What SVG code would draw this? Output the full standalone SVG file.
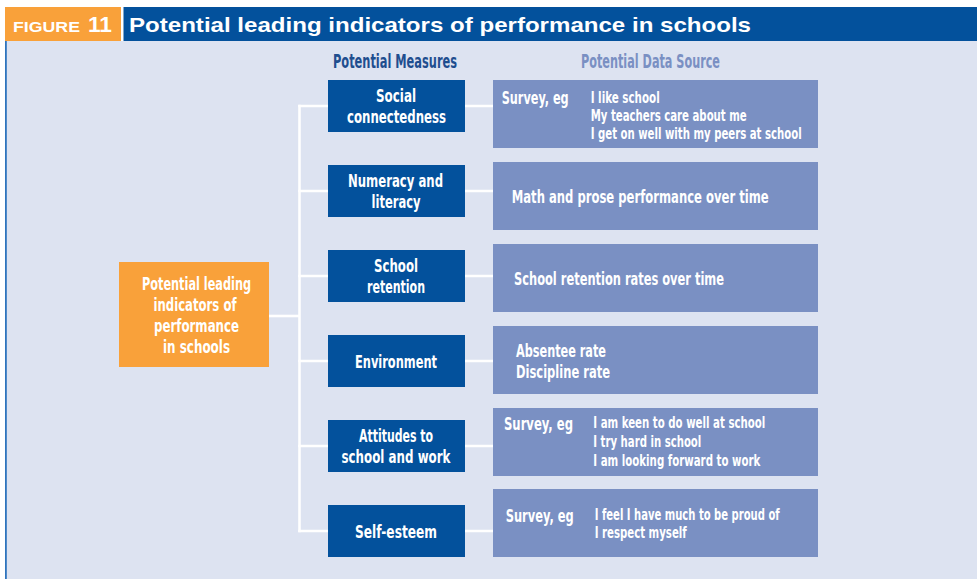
<svg xmlns="http://www.w3.org/2000/svg" width="977" height="579" viewBox="0 0 977 579">
  <style>
    .cond { font-family: "Liberation Sans Narrow", "DejaVu Sans Condensed", "Liberation Sans", sans-serif; font-weight: bold; }
    .head { font-family: "Liberation Sans", Arial, sans-serif; font-weight: bold; fill: #ffffff; }
    .measure rect { fill: #03519c; }
    .measure text { fill: #ffffff; font-size: 18px; text-anchor: middle; }
    .source rect { fill: #7a90c3; }
    .source text { fill: #ffffff; }
    .lbl { font-size: 18px; }
    .item { font-size: 16.5px; }
    .conn { stroke: #ffffff; stroke-width: 2.6; fill: none; }
  </style>

  <!-- page and panel -->
  <rect x="0" y="0" width="977" height="579" fill="#ffffff"/>
  <rect x="5" y="41" width="972" height="538" fill="#dde3f1"/>
  <rect x="5" y="41" width="1.8" height="538" fill="#2f74bd"/>

  <!-- title bar -->
  <g id="title">
    <rect x="5" y="7" width="116" height="34" fill="#f9a13a"/>
    <rect x="123.5" y="7" width="853.5" height="34" fill="#03519c"/>
    <text class="head" x="13" y="32" font-size="15" textLength="67" lengthAdjust="spacingAndGlyphs">FIGURE</text>
    <text class="head" x="88" y="32.3" font-size="22" textLength="24" lengthAdjust="spacingAndGlyphs">11</text>
    <text class="head" x="129" y="31.5" font-size="21" textLength="622" lengthAdjust="spacingAndGlyphs">Potential leading indicators of performance in schools</text>
  </g>

  <!-- column headings -->
  <g id="headings" class="cond" font-size="19" text-anchor="middle">
    <text x="395" y="67.5" fill="#1f4e8f" textLength="124" lengthAdjust="spacingAndGlyphs">Potential Measures</text>
    <text x="650.5" y="68" fill="#7a90c3" textLength="139" lengthAdjust="spacingAndGlyphs">Potential Data Source</text>
  </g>

  <!-- connectors -->
  <g id="connectors" class="conn">
    <path d="M269 316 H299.5"/>
    <path d="M299.5 104.7 V532.3"/>
    <path d="M298.2 106 H328 M298.2 191 H328 M298.2 276 H328 M298.2 361 H328 M298.2 446 H328 M298.2 531 H328"/>
    <path d="M465 106 H493 M465 191 H493 M465 276 H493 M465 361 H493 M465 446 H493 M465 531 H493"/>
  </g>

  <!-- root node -->
  <g id="root" class="cond">
    <rect x="119" y="262" width="150" height="105" fill="#f9a13a"/>
    <g fill="#ffffff" font-size="18" text-anchor="middle">
      <text x="196.5" y="290" textLength="109" lengthAdjust="spacingAndGlyphs">Potential leading</text>
      <text x="195" y="311" textLength="83" lengthAdjust="spacingAndGlyphs">indicators of</text>
      <text x="196.5" y="332" textLength="85" lengthAdjust="spacingAndGlyphs">performance</text>
      <text x="196.5" y="353" textLength="67" lengthAdjust="spacingAndGlyphs">in schools</text>
    </g>
  </g>

  <!-- measures -->
  <g id="m-social" class="measure cond">
    <rect x="328" y="80" width="137" height="52"/>
    <text x="396" y="102" textLength="40" lengthAdjust="spacingAndGlyphs">Social</text>
    <text x="396.5" y="123" textLength="99" lengthAdjust="spacingAndGlyphs">connectedness</text>
  </g>
  <g id="m-numeracy" class="measure cond">
    <rect x="328" y="165" width="137" height="52"/>
    <text x="395.5" y="187" textLength="95" lengthAdjust="spacingAndGlyphs">Numeracy and</text>
    <text x="396" y="208" textLength="49" lengthAdjust="spacingAndGlyphs">literacy</text>
  </g>
  <g id="m-retention" class="measure cond">
    <rect x="328" y="250" width="137" height="52"/>
    <text x="396" y="272" textLength="44" lengthAdjust="spacingAndGlyphs">School</text>
    <text x="396" y="293" textLength="58" lengthAdjust="spacingAndGlyphs">retention</text>
  </g>
  <g id="m-environment" class="measure cond">
    <rect x="328" y="335" width="137" height="52"/>
    <text x="396" y="368" textLength="82" lengthAdjust="spacingAndGlyphs">Environment</text>
  </g>
  <g id="m-attitudes" class="measure cond">
    <rect x="328" y="420" width="137" height="52"/>
    <text x="396" y="442" textLength="74" lengthAdjust="spacingAndGlyphs">Attitudes to</text>
    <text x="396" y="463" textLength="109" lengthAdjust="spacingAndGlyphs">school and work</text>
  </g>
  <g id="m-selfesteem" class="measure cond">
    <rect x="328" y="505" width="137" height="52"/>
    <text x="396" y="538" textLength="82" lengthAdjust="spacingAndGlyphs">Self-esteem</text>
  </g>

  <!-- data sources -->
  <g id="s-social" class="source cond">
    <rect x="493" y="80" width="325" height="68"/>
    <text class="lbl" x="501.7" y="104" textLength="67" lengthAdjust="spacingAndGlyphs">Survey, eg</text>
    <text class="item" x="590.7" y="102.7" textLength="69" lengthAdjust="spacingAndGlyphs">I like school</text>
    <text class="item" x="590.7" y="121" textLength="156" lengthAdjust="spacingAndGlyphs">My teachers care about me</text>
    <text class="item" x="590.7" y="139.3" textLength="211" lengthAdjust="spacingAndGlyphs">I get on well with my peers at school</text>
  </g>
  <g id="s-numeracy" class="source cond">
    <rect x="493" y="162" width="325" height="68"/>
    <text class="lbl" x="511.7" y="203.3" textLength="257" lengthAdjust="spacingAndGlyphs">Math and prose performance over time</text>
  </g>
  <g id="s-retention" class="source cond">
    <rect x="493" y="244" width="325" height="68"/>
    <text class="lbl" x="514" y="285" textLength="210" lengthAdjust="spacingAndGlyphs">School retention rates over time</text>
  </g>
  <g id="s-environment" class="source cond">
    <rect x="493" y="326" width="325" height="68"/>
    <text class="lbl" x="516" y="356.7" textLength="90" lengthAdjust="spacingAndGlyphs">Absentee rate</text>
    <text class="lbl" x="516" y="378.3" textLength="94" lengthAdjust="spacingAndGlyphs">Discipline rate</text>
  </g>
  <g id="s-attitudes" class="source cond">
    <rect x="493" y="408" width="325" height="68"/>
    <text class="lbl" x="504" y="430" textLength="69" lengthAdjust="spacingAndGlyphs">Survey, eg</text>
    <text class="item" x="593.3" y="427.7" textLength="172" lengthAdjust="spacingAndGlyphs">I am keen to do well at school</text>
    <text class="item" x="593.3" y="446.7" textLength="108" lengthAdjust="spacingAndGlyphs">I try hard in school</text>
    <text class="item" x="593.3" y="465.7" textLength="167" lengthAdjust="spacingAndGlyphs">I am looking forward to work</text>
  </g>
  <g id="s-selfesteem" class="source cond">
    <rect x="493" y="489" width="325" height="68"/>
    <text class="lbl" x="505.7" y="521.7" textLength="68" lengthAdjust="spacingAndGlyphs">Survey, eg</text>
    <text class="item" x="594.7" y="520" textLength="185" lengthAdjust="spacingAndGlyphs">I feel I have much to be proud of</text>
    <text class="item" x="594.7" y="538.3" textLength="92" lengthAdjust="spacingAndGlyphs">I respect myself</text>
  </g>
</svg>
